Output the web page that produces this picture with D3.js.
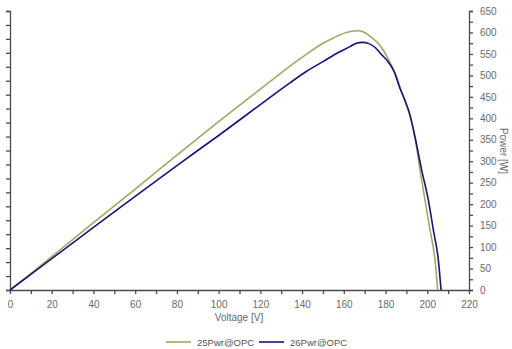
<!DOCTYPE html>
<html><head><meta charset="utf-8">
<script src="https://cdn.jsdelivr.net/npm/d3@7"></script>
<style>
html,body{margin:0;padding:0;background:#fff;}
svg{display:block;font-family:"Liberation Sans",Arial,sans-serif;}
</style></head>
<body><svg id="c" width="512" height="349"></svg>
<script>
const seriesNames = ["25Pwr@OPC", "26Pwr@OPC"];
const seriesColors = ["#a9a462", "#15157a"];
const v25 = [0, 20, 40, 60, 80, 100, 120, 130, 134, 142, 150, 155, 158, 162, 167, 170, 172, 176, 179, 182, 185, 188.5, 191.5, 194.3, 196.5, 198.9, 201.3, 203.7, 205];
const p25 = [0, 78, 157, 235, 314, 392, 468, 506, 521, 549, 575, 587, 594, 601, 604, 600, 593, 577, 558, 531, 500, 450, 410, 350, 280, 210, 140, 70, 0];
const v26 = [0, 20, 40, 60, 80, 100, 120, 134, 142, 150, 158, 163, 166, 169, 172, 175, 178, 181, 184, 186.9, 189.3, 191.7, 194.4, 197.3, 200.5, 202.9, 205.3, 206.6];
const p26 = [0, 73, 146, 218, 290, 360, 432, 482, 509, 532, 555, 567, 575, 577, 574, 565, 549, 533, 510, 470, 442, 408, 350, 280, 210, 140, 70, 0];
const xTicks = [0, 20, 40, 60, 80, 100, 120, 140, 160, 180, 200, 220];
const yTicks = [0, 50, 100, 150, 200, 250, 300, 350, 400, 450, 500, 550, 600, 650];

const svg = d3.select("#c");
const x = d3.scaleLinear().domain([0, 220]).range([10, 469]);
const y = d3.scaleLinear().domain([0, 650]).range([290, 11]);
const yl = d3.scaleLinear().domain([0, 20]).range([290, 11]);
const axisColor = "#4a4a4a";
const textColor = "#6a6a6a";

function styleAxis(g) {
  g.selectAll("path.domain").attr("stroke", axisColor).attr("stroke-width", 1.3);
  g.selectAll(".tick line").attr("stroke", axisColor).attr("stroke-width", 1.3);
  g.selectAll(".tick text").attr("fill", textColor).attr("font-size", "10px")
    .attr("font-family", "'Liberation Sans',Arial,sans-serif");
}

// bottom axis: minor ticks every 10, labels every 20
const gx = svg.append("g").attr("transform", "translate(0,290)")
  .call(d3.axisBottom(x).tickValues(d3.range(0, 221, 10)).tickSize(4).tickSizeOuter(0)
    .tickFormat(d => xTicks.includes(d) ? d : ""));
styleAxis(gx);
gx.selectAll(".tick text").attr("dy", "1.05em");

// right axis
const gy = svg.append("g").attr("transform", "translate(469,0)")
  .call(d3.axisRight(y).tickValues(d3.range(0, 651, 25)).tickSize(4).tickSizeOuter(4)
    .tickFormat(d => yTicks.includes(d) ? d : ""));
styleAxis(gy);
gy.selectAll(".tick text").attr("x", 11);

// left axis without labels
const gl = svg.append("g").attr("transform", "translate(10,0)")
  .call(d3.axisLeft(yl).ticks(20).tickSize(4).tickSizeOuter(4).tickFormat(""));
styleAxis(gl);

// axis titles
svg.append("text").attr("x", 239).attr("y", 321).attr("text-anchor", "middle")
  .attr("fill", textColor).attr("font-size", "10px").text("Voltage [V]");
svg.append("text").attr("transform", "translate(500,151) rotate(90)").attr("text-anchor", "middle")
  .attr("fill", textColor).attr("font-size", "10px").text("Power [W]");

// lines
const line = d3.line().x(d => x(d[0])).y(d => y(d[1])).curve(d3.curveMonotoneX);
const data = [d3.zip(v25, p25), d3.zip(v26, p26)];
data.forEach((d, i) => {
  svg.append("path").datum(d).attr("d", line).attr("fill", "none")
    .attr("stroke", seriesColors[i]).attr("stroke-width", 1.6).attr("stroke-linejoin", "round");
});

// legend
const legX = [166, 259];
seriesNames.forEach((n, i) => {
  svg.append("line").attr("x1", legX[i]).attr("x2", legX[i] + 25).attr("y1", 342).attr("y2", 342)
    .attr("stroke", seriesColors[i]).attr("stroke-width", 1.6);
  svg.append("text").attr("x", legX[i] + 31).attr("y", 345.5).attr("fill", "#555")
    .attr("font-size", "9.5px").text(n);
});
</script></body></html>
